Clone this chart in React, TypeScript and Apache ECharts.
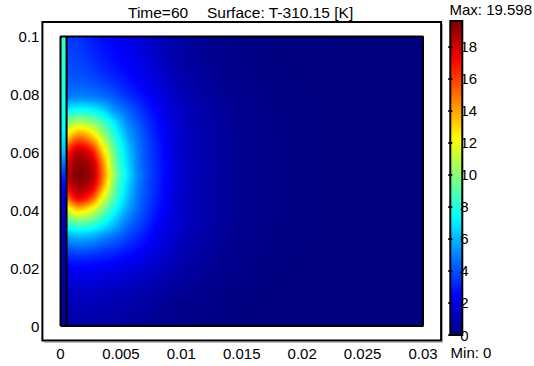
import React, { useEffect, useRef } from "react";
import * as echarts from "echarts";

// Temperature rise T - 310.15 [K] at Time = 60
const tMin = 0;
const tMax = 19.598;

// Mesh nodes of the tissue region (m)
const xNodes = [0.0005, 0.0015, 0.0025, 0.0035, 0.0045, 0.0055, 0.0065, 0.008, 0.01, 0.0125, 0.015, 0.018, 0.022, 0.026, 0.03];
const yNodes = [0, 0.01, 0.02, 0.03, 0.035, 0.04, 0.045, 0.05, 0.0525, 0.055, 0.06, 0.065, 0.07, 0.075, 0.08, 0.09, 0.1];

// One row per yNodes entry, one value per xNodes entry
const tissueT = [
  [0.7, 0.75, 0.72, 0.68, 0.62, 0.55, 0.47, 0.34, 0.2, 0.1, 0.04, 0.01, 0, 0, 0],
  [1.2, 1.25, 1.22, 1.15, 1.05, 0.95, 0.83, 0.62, 0.38, 0.2, 0.09, 0.03, 0.01, 0, 0],
  [2.3, 2.4, 2.35, 2.25, 2.1, 1.9, 1.7, 1.3, 0.8, 0.42, 0.2, 0.07, 0.02, 0, 0],
  [5.25, 5.55, 5.4, 4.8, 4.3, 3.6, 3.0, 2.1, 1.2, 0.6, 0.3, 0.12, 0.03, 0.01, 0],
  [8.1, 8.6, 8.3, 7.2, 5.9, 4.6, 3.7, 2.45, 1.38, 0.7, 0.35, 0.14, 0.04, 0.01, 0],
  [11.2, 13.0, 11.8, 9.65, 7.45, 5.6, 4.3, 2.8, 1.45, 0.75, 0.38, 0.15, 0.04, 0.01, 0],
  [15.3, 17.8, 16.4, 12.3, 8.9, 6.4, 4.6, 3.0, 1.48, 0.76, 0.38, 0.15, 0.04, 0.01, 0],
  [17.8, 19.3, 18.6, 14.65, 9.6, 6.85, 4.8, 3.1, 1.5, 0.77, 0.38, 0.15, 0.04, 0.01, 0],
  [18.2, 19.598, 18.9, 15.0, 10.0, 7.1, 4.9, 3.15, 1.52, 0.78, 0.38, 0.15, 0.04, 0.01, 0],
  [18.0, 19.4, 18.8, 14.8, 9.7, 6.9, 4.8, 3.1, 1.5, 0.77, 0.38, 0.15, 0.04, 0.01, 0],
  [16.5, 18.5, 17.4, 13.3, 9.2, 6.6, 4.7, 3.05, 1.48, 0.76, 0.38, 0.15, 0.04, 0.01, 0],
  [13.0, 15.2, 14.0, 11.0, 8.2, 6.0, 4.5, 2.9, 1.45, 0.75, 0.37, 0.15, 0.04, 0.01, 0],
  [10.0, 11.1, 10.5, 8.9, 7.0, 5.2, 4.1, 2.7, 1.4, 0.72, 0.36, 0.14, 0.04, 0.01, 0],
  [7.05, 7.45, 7.2, 6.45, 5.2, 4.35, 3.47, 2.35, 1.32, 0.68, 0.34, 0.13, 0.04, 0.01, 0],
  [4.7, 4.85, 4.75, 4.45, 3.95, 3.35, 2.8, 2.0, 1.1, 0.58, 0.28, 0.1, 0.03, 0, 0],
  [3.9, 3.8, 3.5, 3.1, 2.75, 2.4, 2.05, 1.45, 0.8, 0.4, 0.18, 0.06, 0.02, 0, 0],
  [3.6, 3.4, 3.0, 2.6, 2.3, 2.0, 1.7, 1.15, 0.6, 0.25, 0.1, 0.03, 0.01, 0, 0],
];

// Thin surface layer, 0 <= x <= 0.0005
const layerX = [0, 0.0005];
const layerY = [0, 0.01, 0.02, 0.03, 0.04, 0.045, 0.05, 0.055, 0.06, 0.065, 0.07, 0.08, 0.09, 0.1];
const layerT = [0.6, 0.75, 0.9, 1.1, 1.5, 2.0, 2.8, 4.2, 6.0, 7.0, 7.5, 7.9, 8.2, 8.4];

// Geometry
const domainX = [0, 0.03];
const domainY = [0, 0.1];

// Tick labels
const xTicks = [0, 0.005, 0.01, 0.015, 0.02, 0.025, 0.03];
const yTicks = [0, 0.02, 0.04, 0.06, 0.08, 0.1];
const barTicks = [0, 2, 4, 6, 8, 10, 12, 14, 16, 18];

const titleLeft = "Time=60";
const titleRight = "Surface: T-310.15 [K]";

const jetColors = ["#00007F", "#0000FF", "#007FFF", "#00FFFF", "#7FFF7F", "#FFFF00", "#FF7F00", "#FF0000", "#7F0000"];

const FAMILY = '"Liberation Sans", Arial, sans-serif';
const FONT = `15px ${FAMILY}`;
const TITLE_FONT = `15.5px ${FAMILY}`;

function hexToRgb(h: string): number[] {
  return [parseInt(h.slice(1, 3), 16), parseInt(h.slice(3, 5), 16), parseInt(h.slice(5, 7), 16)];
}
const jetRgb = jetColors.map(hexToRgb);

function jet(v: number): string {
  const t = Math.min(1, Math.max(0, (v - tMin) / (tMax - tMin))) * (jetRgb.length - 1);
  const i = Math.min(jetRgb.length - 2, Math.floor(t));
  const f = t - i;
  const a = jetRgb[i];
  const b = jetRgb[i + 1];
  const c = a.map((ai, k) => Math.round(ai + (b[k] - ai) * f));
  return `rgb(${c[0]},${c[1]},${c[2]})`;
}

// Monotone cubic (Fritsch-Carlson) slopes and evaluation
function slopes(xs: number[], ys: number[]): number[] {
  const n = xs.length;
  const d: number[] = [];
  for (let i = 0; i < n - 1; i++) d.push((ys[i + 1] - ys[i]) / (xs[i + 1] - xs[i]));
  const m = new Array(n).fill(0);
  m[0] = d[0];
  m[n - 1] = d[n - 2];
  for (let i = 1; i < n - 1; i++) {
    if (d[i - 1] * d[i] <= 0) m[i] = 0;
    else {
      const h0 = xs[i] - xs[i - 1];
      const h1 = xs[i + 1] - xs[i];
      const w1 = 2 * h1 + h0;
      const w2 = h1 + 2 * h0;
      m[i] = (w1 + w2) / (w1 / d[i - 1] + w2 / d[i]);
    }
  }
  return m;
}

function hermite(xs: number[], ys: number[], m: number[], x: number): number {
  let i = 0;
  while (i < xs.length - 2 && x > xs[i + 1]) i++;
  const h = xs[i + 1] - xs[i];
  const t = Math.min(1, Math.max(0, (x - xs[i]) / h));
  const t2 = t * t;
  const t3 = t2 * t;
  return (
    (2 * t3 - 3 * t2 + 1) * ys[i] +
    (t3 - 2 * t2 + t) * h * m[i] +
    (-2 * t3 + 3 * t2) * ys[i + 1] +
    (t3 - t2) * h * m[i + 1]
  );
}

// Surface shading: horizontal bands, each filled with a gradient along x
const BANDS = 290;
const STOPS = 120;

function buildField() {
  const cols = xNodes.map((_, j) => tissueT.map((r) => r[j]));
  const colSlopes = cols.map((c) => slopes(yNodes, c));
  const x0 = xNodes[0];
  const x1 = xNodes[xNodes.length - 1];
  const y0 = domainY[0];
  const y1 = domainY[1];
  const data: number[][] = [];
  const gradients: { offset: number; color: string }[][] = [];
  for (let k = 0; k < BANDS; k++) {
    const ya = y0 + ((y1 - y0) * k) / BANDS;
    const yb = y0 + ((y1 - y0) * (k + 1)) / BANDS;
    const yc = (ya + yb) / 2;
    const rowVals = cols.map((c, j) => hermite(yNodes, c, colSlopes[j], yc));
    const rowSlopes = slopes(xNodes, rowVals);
    const stops: { offset: number; color: string }[] = [];
    for (let s = 0; s <= STOPS; s++) {
      const x = x0 + ((x1 - x0) * s) / STOPS;
      stops.push({ offset: s / STOPS, color: jet(hermite(xNodes, rowVals, rowSlopes, x)) });
    }
    data.push([x0, x1, ya, yb]);
    gradients.push(stops);
  }
  return { data, gradients };
}

function buildLayerStops() {
  const m = slopes(layerY, layerT);
  const stops: { offset: number; color: string }[] = [];
  const n = 80;
  for (let s = 0; s <= n; s++) {
    const y = domainY[1] - ((domainY[1] - domainY[0]) * s) / n;
    stops.push({ offset: s / n, color: jet(hermite(layerY, layerT, m, y)) });
  }
  return stops;
}

export default function App() {
  const ref = useRef<HTMLDivElement>(null);

  useEffect(() => {
    if (!ref.current) return;
    const chart = echarts.init(ref.current, undefined, { renderer: "svg" });
    const field = buildField();
    const layerStops = buildLayerStops();
    const barStops = jetColors
      .slice()
      .reverse()
      .map((c, i) => ({ offset: i / (jetColors.length - 1), color: c }));

    const labelText = { color: "#000", fontSize: 15, fontFamily: FAMILY };

    const option: any = {
      animation: false,
      backgroundColor: "#fff",
      grid: [
        { left: 42.4, top: 22, width: 398.7, height: 318.5, show: true, borderColor: "#000", borderWidth: 2, backgroundColor: "transparent" },
        { left: 450.3, top: 21, width: 12, height: 314, show: false },
      ],
      xAxis: [
        {
          gridIndex: 0,
          type: "value",
          min: -0.0015,
          max: 0.0315,
          axisLine: { show: false },
          axisTick: { show: false },
          splitLine: { show: false },
          axisLabel: { ...labelText, margin: 5, customValues: xTicks, formatter: (v: number) => String(v) },
        },
        { gridIndex: 1, type: "value", min: 0, max: 1, show: false },
      ],
      yAxis: [
        {
          gridIndex: 0,
          type: "value",
          min: -0.005,
          max: 0.105,
          axisLine: { show: false },
          axisTick: { show: false },
          splitLine: { show: false },
          axisLabel: { ...labelText, margin: 3, padding: [4, 0, 0, 0], customValues: yTicks, formatter: (v: number) => String(v) },
        },
        {
          gridIndex: 1,
          type: "value",
          min: tMin,
          max: tMax,
          position: "right",
          z: 10,
          axisLine: { show: false },
          splitLine: { show: false },
          axisTick: { show: true, inside: true, length: 2, lineStyle: { color: "#000", width: 2 }, customValues: barTicks },
          axisLabel: { ...labelText, margin: -2, padding: [3, 0, 0, 0], customValues: barTicks, formatter: (v: number) => String(v) },
        },
        {
          gridIndex: 1,
          type: "value",
          min: tMin,
          max: tMax,
          position: "left",
          z: 10,
          axisLine: { show: false },
          splitLine: { show: false },
          axisTick: { show: true, inside: true, length: 2, lineStyle: { color: "#000", width: 2 }, customValues: barTicks },
          axisLabel: { show: false },
        },
      ],
      series: [
        {
          type: "custom",
          name: "tissue",
          xAxisIndex: 0,
          yAxisIndex: 0,
          silent: true,
          z: 1,
          encode: { x: [0, 1], y: [2, 3] },
          data: field.data,
          renderItem: (params: any, api: any) => {
            const a = api.coord([api.value(0), api.value(3)]);
            const b = api.coord([api.value(1), api.value(2)]);
            return {
              type: "rect",
              shape: { x: a[0], y: a[1] - 0.4, width: b[0] - a[0], height: b[1] - a[1] + 0.8 },
              style: { fill: new echarts.graphic.LinearGradient(0, 0, 1, 0, field.gradients[params.dataIndex]) },
            };
          },
        },
        {
          type: "custom",
          name: "layer",
          xAxisIndex: 0,
          yAxisIndex: 0,
          silent: true,
          z: 1,
          encode: { x: [0, 1], y: [2, 3] },
          data: [[layerX[0], layerX[1], domainY[0], domainY[1]]],
          renderItem: (_params: any, api: any) => {
            const a = api.coord([api.value(0), api.value(3)]);
            const b = api.coord([api.value(1), api.value(2)]);
            return {
              type: "rect",
              shape: { x: a[0], y: a[1], width: b[0] - a[0], height: b[1] - a[1] },
              style: { fill: new echarts.graphic.LinearGradient(0, 0, 0, 1, layerStops) },
            };
          },
        },
        {
          type: "line",
          name: "boundary",
          xAxisIndex: 0,
          yAxisIndex: 0,
          silent: true,
          symbol: "none",
          z: 3,
          lineStyle: { color: "#000", width: 2 },
          data: [
            [domainX[0], domainY[0]],
            [domainX[1], domainY[0]],
            [domainX[1], domainY[1]],
            [domainX[0], domainY[1]],
            [domainX[0], domainY[0]],
          ],
        },
        {
          type: "line",
          name: "interface",
          xAxisIndex: 0,
          yAxisIndex: 0,
          silent: true,
          symbol: "none",
          z: 3,
          lineStyle: { color: "#000", width: 2 },
          data: [
            [layerX[1], domainY[0]],
            [layerX[1], domainY[1]],
          ],
        },
        {
          type: "custom",
          name: "colorbar",
          xAxisIndex: 1,
          yAxisIndex: 1,
          silent: true,
          z: 2,
          encode: { x: [0, 1], y: [2, 3] },
          data: [[0, 1, tMin, tMax]],
          renderItem: (_params: any, api: any) => {
            const a = api.coord([api.value(0), api.value(3)]);
            const b = api.coord([api.value(1), api.value(2)]);
            return {
              type: "rect",
              shape: { x: a[0], y: a[1], width: b[0] - a[0], height: b[1] - a[1] },
              style: { fill: new echarts.graphic.LinearGradient(0, 0, 0, 1, barStops), stroke: "#000", lineWidth: 2 },
            };
          },
        },
      ],
      graphic: [
        { type: "polyline", silent: true, z: -1, shape: { points: [[442.6, 24], [442.6, 342.5], [44, 342.5]] }, style: { stroke: "#b8b8b8", lineWidth: 1, fill: null } },
        { type: "text", x: 128, y: 12.3, silent: true, style: { text: titleLeft, font: TITLE_FONT, fill: "#000", align: "left", verticalAlign: "middle" } },
        { type: "text", x: 207, y: 12.3, silent: true, style: { text: titleRight, font: TITLE_FONT, fill: "#000", align: "left", verticalAlign: "middle" } },
        { type: "text", x: 449.5, y: 9, silent: true, style: { text: `Max: ${tMax}`, font: FONT, fill: "#000", align: "left", verticalAlign: "middle" } },
        { type: "text", x: 450.6, y: 352, silent: true, style: { text: `Min: ${tMin}`, font: FONT, fill: "#000", align: "left", verticalAlign: "middle" } },
      ],
    };

    chart.setOption(option);
    return () => chart.dispose();
  }, []);

  return <div ref={ref} style={{ position: "fixed", left: 0, top: 0, width: 534, height: 366, background: "#fff" }} />;
}
